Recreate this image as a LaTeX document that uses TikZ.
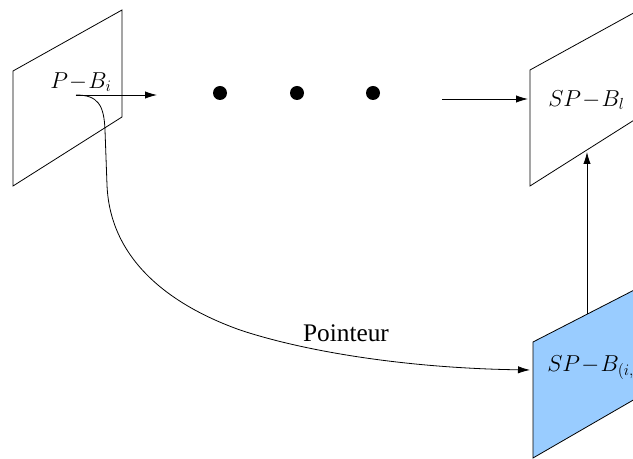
\documentclass[tikz,border=0pt]{standalone}
\usepackage{fontspec}
\setmainfont{Liberation Serif}
\usetikzlibrary{arrows.meta}
\definecolor{planeblue}{RGB}{153,204,255}

\begin{document}
\begin{tikzpicture}[
        x=0.75pt, y=-0.75pt,
        plane/.style={draw, line width=0.6pt},
        lbl/.style={inner sep=0pt, font=\fontsize{18}{21}\selectfont},
        dot/.style={circle, fill, inner sep=0pt, minimum size=10.5pt},
        edge/.style={-{Latex[length=9pt, width=5.5pt]}, line width=0.6pt},
        every node/.style={font=\fontsize{19}{22}\selectfont}
        ]
     \useasboundingbox (0,0) rectangle (633,459);
     \clip (0,0) rectangle (633,459);

     % the three planes
     \draw[plane] (13,71) -- (122,10) -- (122,117) -- (13,186) -- cycle;
     \draw[plane] (530,70) -- (639,10) -- (639,117) -- (530,186) -- cycle;
     \draw[plane, fill=planeblue] (533,342) -- (642,286) -- (642,395) -- (533,458) -- cycle;

      \node[lbl, anchor=west] (pbi) at (50,82) {$P\!-\!B_i$};
      \node[lbl, anchor=west] (spbl) at (548,100) {$SP\!-\!B_l$};
      \node[lbl, anchor=west] (spbij) at (547,368) {$SP\!-\!B_{(i,}$};

      \node[dot] (d1) at (220,93) {};
      \node[dot] (d2) at (297,93) {};
      \node[dot] (d3) at (373,93) {};

      \coordinate (src) at (76,95);
      \coordinate (srcend) at (157,95);
      \coordinate (mid) at (442,99);
      \coordinate (spin) at (528,99);
      \coordinate (bluein) at (530,370);
      \coordinate (bluetop) at (587,314);
      \coordinate (spbot) at (587,152);

      \draw[edge] (src) -- (srcend);
      \draw[edge] (mid) -- (spin);
      \draw[edge] (bluetop) -- (spbot);
      \draw[edge] (src) .. controls (98,95) and (104,105) .. (105,130)
            -- (107,185) .. controls (110,260) and (170,305) .. (240,330)
            .. controls (300,350) and (400,368) .. (bluein);

      \node (pointeur) at (346,333) {Pointeur};

    \end{tikzpicture}
\end{document}
